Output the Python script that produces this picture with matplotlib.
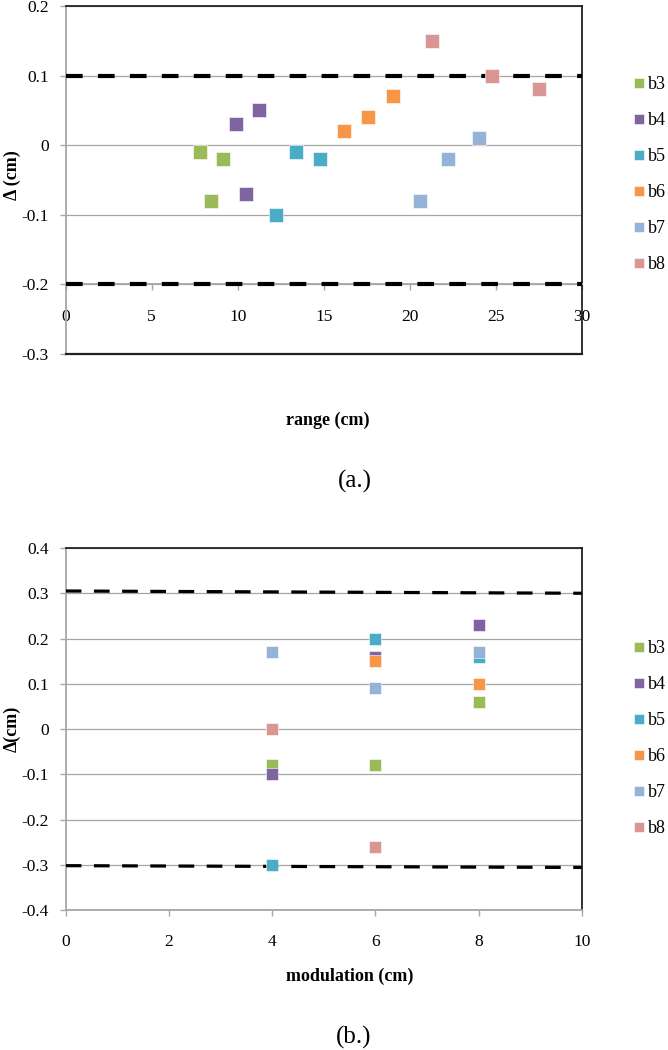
import numpy as np
import matplotlib
matplotlib.use("Agg")
import matplotlib.pyplot as plt

plt.rcParams['font.family'] = ['Liberation Serif', 'DejaVu Serif']
plt.rcParams['lines.scale_dashes'] = False

series = ['b3', 'b4', 'b5', 'b6', 'b7', 'b8']
colors = ['#9bbb59', '#8064a2', '#4bacc6', '#f79646', '#95b3d7', '#d99694']

# (a.) delta vs range
range_x = {
    'b3': [7.8, 9.15, 8.45],
    'b4': [9.9, 11.25, 10.5],
    'b5': [12.2, 13.4, 14.8],
    'b6': [16.15, 17.55, 19.05],
    'b7': [20.6, 22.25, 24.05],
    'b8': [21.3, 24.8, 27.5],
}
range_y = {
    'b3': [-0.01, -0.02, -0.08],
    'b4': [0.03, 0.05, -0.07],
    'b5': [-0.10, -0.01, -0.02],
    'b6': [0.02, 0.04, 0.07],
    'b7': [-0.08, -0.02, 0.01],
    'b8': [0.15, 0.10, 0.08],
}
range_limits = [0.1, -0.2]

# (b.) delta vs modulation
mod_x = {
    'b3': [4, 6, 8],
    'b4': [4, 6, 8],
    'b5': [4, 6, 8],
    'b6': [6, 8],
    'b7': [4, 6, 8],
    'b8': [4, 6],
}
mod_y = {
    'b3': [-0.08, -0.08, 0.06],
    'b4': [-0.10, 0.16, 0.23],
    'b5': [-0.30, 0.20, 0.16],
    'b6': [0.15, 0.10],
    'b7': [0.17, 0.09, 0.17],
    'b8': [0.0, -0.26],
}
mod_limit_x = [0, 10]
mod_upper = [0.305, 0.300]
mod_lower = [-0.302, -0.306]

grid_col = '#a6a6a6'
fig = plt.figure(figsize=(6.68, 10.5), dpi=100)


def style_axes(ax):
    ax.yaxis.grid(True, color=grid_col, linewidth=0.9)
    ax.set_axisbelow(True)
    ax.spines['left'].set_color(grid_col)
    ax.spines['left'].set_linewidth(1.3)
    ax.spines['bottom'].set_color(grid_col)
    ax.spines['bottom'].set_linewidth(1.3)
    ax.spines['top'].set_color('#222222')
    ax.spines['right'].set_color('#222222')
    ax.spines['top'].set_linewidth(1.3)
    ax.spines['right'].set_linewidth(1.3)
    ax.tick_params(axis='y', direction='out', length=4, width=1, color=grid_col,
                   pad=8, labelsize=12.5)
    ax.tick_params(axis='x', direction='out', length=4, width=1, color=grid_col,
                   pad=13.5, labelsize=12.5)


# ---- (a.) ----
ax1 = fig.add_axes([0.0984, 0.6629, 0.7725, 0.33143])
for s, c in zip(series, colors):
    ax1.plot(range_x[s], range_y[s], 's', color=c, markersize=9.5,
             markeredgecolor='white', markeredgewidth=0.4, label=s, zorder=4)
for lim in range_limits:
    ax1.plot([0, 30], [lim, lim], color='black', linewidth=3, dashes=(12, 11),
             zorder=3, clip_on=False)
ax1.set_xlim(0, 30)
ax1.set_ylim(-0.3, 0.2)
ax1.set_xticks(np.arange(0, 31, 5))
ax1.set_yticks(np.arange(-0.3, 0.21, 0.1))
ax1.set_yticklabels(['-0.3', '-0.2', '-0.1', '0', '0.1', '0.2'])
style_axes(ax1)
ax1.spines['bottom'].set_position(('data', -0.2))
ax1.axhline(-0.3, color='#222222', linewidth=1.6, clip_on=False, zorder=5)
ax1.set_xlabel('range (cm)', fontsize=13, fontweight='bold')
ax1.xaxis.set_label_coords(0.508, -0.165)
ax1.set_ylabel('\u0394 (cm)', fontsize=13, fontweight='bold')
ax1.yaxis.set_label_coords(-0.087, 0.514)
ax1.legend(loc='center left', bbox_to_anchor=(0.948, 0.8335),
           bbox_transform=fig.transFigure, frameon=False, fontsize=13,
           markerscale=0.8, handlelength=0.6, handletextpad=0.2,
           labelspacing=1.05, borderpad=0, borderaxespad=0)
fig.text(0.531, 0.5419, '(a.)', fontsize=18, ha='center', va='center')

# ---- (b.) ----
ax2 = fig.add_axes([0.0984, 0.13333, 0.7725, 0.34476])
for s, c in zip(series, colors):
    ax2.plot(mod_x[s], mod_y[s], 's', color=c, markersize=9.2,
             markeredgecolor='white', markeredgewidth=0.4, label=s, zorder=4)
ax2.plot(mod_limit_x, mod_upper, color='black', linewidth=2.3, dashes=(11.3, 9),
         zorder=3)
ax2.plot(mod_limit_x, mod_lower, color='black', linewidth=2.3, dashes=(11.3, 9),
         zorder=3)
ax2.set_xlim(0, 10)
ax2.set_ylim(-0.4, 0.4)
ax2.set_xticks(np.arange(0, 11, 2))
ax2.set_yticks(np.arange(-0.4, 0.41, 0.1))
ax2.set_yticklabels(['-0.4', '-0.3', '-0.2', '-0.1', '0', '0.1', '0.2', '0.3', '0.4'])
style_axes(ax2)
ax2.set_xlabel('modulation (cm)', fontsize=13, fontweight='bold')
ax2.xaxis.set_label_coords(0.551, -0.16)
ax2.set_ylabel('\u0394(cm)', fontsize=13, fontweight='bold')
ax2.yaxis.set_label_coords(-0.087, 0.5)
ax2.legend(loc='center left', bbox_to_anchor=(0.948, 0.2965),
           bbox_transform=fig.transFigure, frameon=False, fontsize=13,
           markerscale=0.8, handlelength=0.6, handletextpad=0.2,
           labelspacing=1.05, borderpad=0, borderaxespad=0)
fig.text(0.53, 0.0124, '(b.)', fontsize=18, ha='center', va='center')

fig.savefig('out.png', dpi=100)
